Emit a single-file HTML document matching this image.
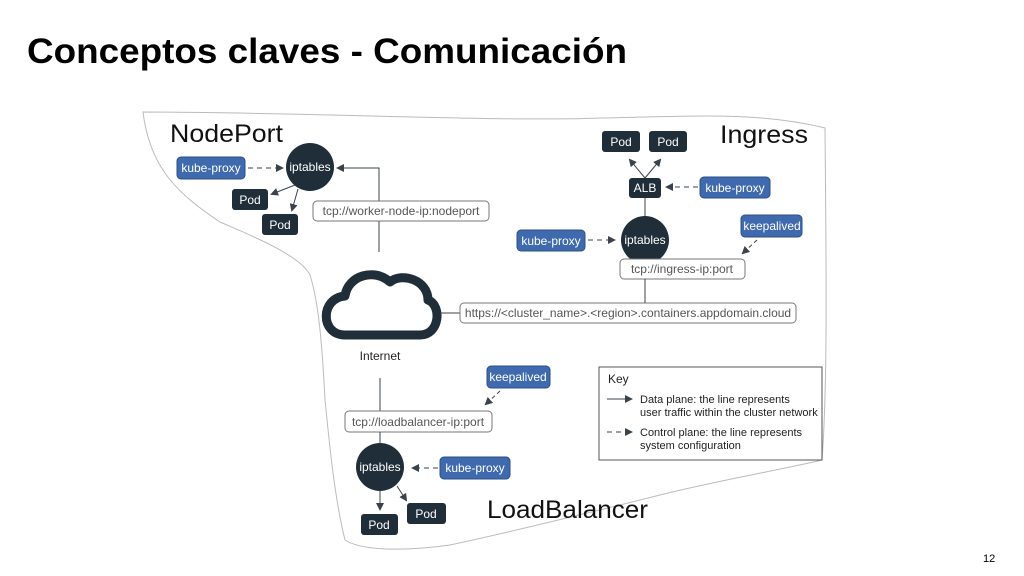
<!DOCTYPE html>
<html><head><meta charset="utf-8"><style>
body{margin:0;background:#fff}
svg{display:block}
text{font-family:"Liberation Sans",sans-serif}
</style></head><body>
<svg width="1024" height="576" viewBox="0 0 1024 576" xmlns="http://www.w3.org/2000/svg">
<defs>
<marker id="a" markerWidth="8" markerHeight="8" refX="6" refY="4" orient="auto" markerUnits="userSpaceOnUse"><path d="M0,0 L8,4 L0,8 z" fill="#3a434b"/></marker>
</defs>
<text x="27" y="63" font-size="35" font-weight="bold" fill="#000" textLength="600" lengthAdjust="spacingAndGlyphs">Conceptos claves - Comunicación</text>
<path d="M143,112 C300,112 500,122 600,118 C700,116 760,112 825,128 C826,250 828,380 822,460 C780,470 720,480 660,495 C600,510 520,530 450,545 C400,552 360,550 345,540 C335,500 330,450 325,400 C322,340 318,300 310,275 C300,255 250,235 220,222 C180,195 150,170 143,112 Z" fill="none" stroke="#bbb" stroke-width="1"/>
<g font-size="12" fill="#fff" text-anchor="middle">
<text x="170" y="142" font-size="25" fill="#111" text-anchor="start" textLength="113" lengthAdjust="spacingAndGlyphs">NodePort</text>
<rect x="177" y="157" width="68" height="22" rx="4" fill="#3f6aae" stroke="#2c4f85"/><text x="211" y="172">kube-proxy</text>
<line x1="248" y1="168" x2="282" y2="168" stroke="#3a434b" stroke-dasharray="5,4" marker-end="url(#a)"/>
<circle cx="310" cy="167" r="24" fill="#1f2e38"/><text x="310" y="171">iptables</text>
<line x1="295" y1="185" x2="272" y2="194" stroke="#3a434b" marker-end="url(#a)"/>
<line x1="298" y1="189" x2="292" y2="210" stroke="#3a434b" marker-end="url(#a)"/>
<rect x="232" y="189" width="36" height="21" rx="3" fill="#1f2e38"/><text x="250" y="204">Pod</text>
<rect x="262" y="214" width="36" height="21" rx="3" fill="#1f2e38"/><text x="280" y="229">Pod</text>
<polyline points="379,252 379,168 338,168" fill="none" stroke="#3a434b" marker-end="url(#a)"/>
<rect x="313" y="201" width="176" height="20" rx="4" fill="#fff" stroke="#777"/><text x="401" y="215" fill="#555">tcp://worker-node-ip:nodeport</text>
<path d="M345,335 C320,335 320,298 345,296 C348,275 375,268 390,282 C402,272 428,280 428,300 C442,305 440,335 420,335 Z" fill="none" stroke="#1f2e38" stroke-width="9" stroke-linejoin="round"/>
<text x="380" y="360" fill="#222">Internet</text>
<line x1="440" y1="313" x2="460" y2="313" stroke="#3a434b"/>
<rect x="460" y="303" width="336" height="20" rx="4" fill="#fff" stroke="#777"/><text x="628" y="317" fill="#555">https://&lt;cluster_name&gt;.&lt;region&gt;.containers.appdomain.cloud</text>
<text x="720" y="143" font-size="25" fill="#111" text-anchor="start" textLength="88" lengthAdjust="spacingAndGlyphs">Ingress</text>
<rect x="602" y="131" width="38" height="21" rx="3" fill="#1f2e38"/><text x="621" y="146">Pod</text>
<rect x="649" y="131" width="38" height="21" rx="3" fill="#1f2e38"/><text x="668" y="146">Pod</text>
<line x1="645" y1="178" x2="630" y2="160" stroke="#3a434b" marker-end="url(#a)"/>
<line x1="645" y1="178" x2="660" y2="160" stroke="#3a434b" marker-end="url(#a)"/>
<rect x="629" y="178" width="32" height="20" rx="3" fill="#1f2e38"/><text x="645" y="192">ALB</text>
<rect x="700" y="177" width="70" height="21" rx="4" fill="#3f6aae" stroke="#2c4f85"/><text x="735" y="192">kube-proxy</text>
<line x1="698" y1="187" x2="667" y2="187" stroke="#3a434b" stroke-dasharray="5,4" marker-end="url(#a)"/>
<line x1="645" y1="198" x2="645" y2="216" stroke="#3a434b"/>
<rect x="517" y="230" width="68" height="21" rx="4" fill="#3f6aae" stroke="#2c4f85"/><text x="551" y="245">kube-proxy</text>
<line x1="588" y1="240" x2="614" y2="240" stroke="#3a434b" stroke-dasharray="5,4" marker-end="url(#a)"/>
<circle cx="645" cy="240" r="24" fill="#1f2e38"/><text x="645" y="244">iptables</text>
<rect x="741" y="215" width="61" height="22" rx="4" fill="#3f6aae" stroke="#2c4f85"/><text x="772" y="230">keepalived</text>
<line x1="757" y1="240" x2="743" y2="253" stroke="#3a434b" stroke-dasharray="4,3" marker-end="url(#a)"/>
<rect x="620" y="259" width="125" height="20" rx="4" fill="#fff" stroke="#777"/><text x="682" y="273" fill="#555">tcp://ingress-ip:port</text>
<line x1="645" y1="279" x2="645" y2="303" stroke="#3a434b"/>
<line x1="380" y1="378" x2="380" y2="411" stroke="#3a434b"/>
<rect x="487" y="366" width="63" height="22" rx="4" fill="#3f6aae" stroke="#2c4f85"/><text x="518" y="381">keepalived</text>
<line x1="500" y1="391" x2="486" y2="404" stroke="#3a434b" stroke-dasharray="4,3" marker-end="url(#a)"/>
<rect x="345" y="411" width="147" height="21" rx="4" fill="#fff" stroke="#777"/><text x="418" y="426" fill="#555">tcp://loadbalancer-ip:port</text>
<line x1="380" y1="432" x2="380" y2="443" stroke="#3a434b"/>
<circle cx="380" cy="467" r="24" fill="#1f2e38"/><text x="380" y="471">iptables</text>
<rect x="440" y="457" width="70" height="22" rx="4" fill="#3f6aae" stroke="#2c4f85"/><text x="475" y="472">kube-proxy</text>
<line x1="438" y1="468" x2="413" y2="468" stroke="#3a434b" stroke-dasharray="5,4" marker-end="url(#a)"/>
<line x1="380" y1="491" x2="380" y2="509" stroke="#3a434b" marker-end="url(#a)"/>
<line x1="397" y1="486" x2="406" y2="500" stroke="#3a434b" marker-end="url(#a)"/>
<rect x="361" y="514" width="37" height="21" rx="3" fill="#1f2e38"/><text x="379" y="529">Pod</text>
<rect x="407" y="503" width="39" height="21" rx="3" fill="#1f2e38"/><text x="426" y="518">Pod</text>
<text x="487" y="518" font-size="25" fill="#111" text-anchor="start" textLength="161" lengthAdjust="spacingAndGlyphs">LoadBalancer</text>
<rect x="599" y="367" width="223" height="93" fill="#fff" stroke="#555"/>
<g fill="#222" font-size="11" text-anchor="start">
<text x="608" y="383" font-size="12">Key</text>
<text x="640" y="403">Data plane: the line represents</text>
<text x="640" y="416">user traffic within the cluster network</text>
<text x="640" y="436">Control plane: the line represents</text>
<text x="640" y="449">system configuration</text>
</g>
<line x1="607" y1="399" x2="631" y2="399" stroke="#3a434b" marker-end="url(#a)"/>
<line x1="607" y1="432" x2="631" y2="432" stroke="#3a434b" stroke-dasharray="5,4" marker-end="url(#a)"/>
</g>
<text x="983" y="562" font-size="11" fill="#000">12</text>
</svg>
</body></html>
